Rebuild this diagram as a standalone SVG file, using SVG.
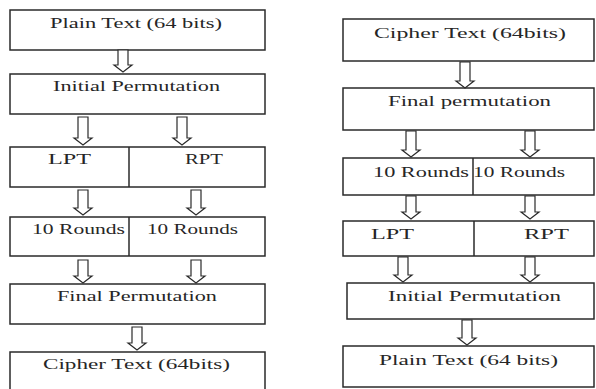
<svg xmlns="http://www.w3.org/2000/svg" width="596" height="389" viewBox="0 0 596 389">
  <style>
    .box { fill: #ffffff; stroke: #2a2a2a; stroke-width: 1.5; }
    .div { stroke: #2a2a2a; stroke-width: 1.5; }
    .arr { fill: #ffffff; stroke: #2a2a2a; stroke-width: 1.2; stroke-linejoin: miter; }
    .lbl { font-family: 'Times New Roman', Times, 'Liberation Serif', serif; font-size: 15px; fill: #262626; }
  </style>
  <rect width="596" height="389" fill="#ffffff"/>

  <!-- Encryption: left column -->
  <g id="enc-plain">
    <rect class="box" x="10" y="10" width="255" height="40"/>
    <text class="lbl" x="50" y="28" textLength="172" lengthAdjust="spacingAndGlyphs">Plain Text (64 bits)</text>
  </g>
  <g id="enc-ip">
    <rect class="box" x="10" y="74" width="255" height="40"/>
    <text class="lbl" x="53" y="91" textLength="167" lengthAdjust="spacingAndGlyphs">Initial Permutation</text>
  </g>
  <g id="enc-halves">
    <rect class="box" x="10" y="147" width="255" height="40"/>
    <line class="div" x1="129" y1="147" x2="129" y2="187"/>
    <text class="lbl" x="48" y="164" textLength="43" lengthAdjust="spacingAndGlyphs">LPT</text>
    <text class="lbl" x="185" y="164" textLength="38" lengthAdjust="spacingAndGlyphs">RPT</text>
  </g>
  <g id="enc-rounds">
    <rect class="box" x="10" y="217" width="255" height="39"/>
    <line class="div" x1="129" y1="217" x2="129" y2="256"/>
    <text class="lbl" x="32" y="234" textLength="93" lengthAdjust="spacingAndGlyphs">10 Rounds</text>
    <text class="lbl" x="147" y="234" textLength="91" lengthAdjust="spacingAndGlyphs">10 Rounds</text>
  </g>
  <g id="enc-fp">
    <rect class="box" x="10" y="284" width="255" height="40"/>
    <text class="lbl" x="57" y="301" textLength="160" lengthAdjust="spacingAndGlyphs">Final Permutation</text>
  </g>
  <g id="enc-cipher">
    <rect class="box" x="10" y="352" width="255" height="45"/>
    <text class="lbl" x="43" y="369" textLength="187" lengthAdjust="spacingAndGlyphs">Cipher Text (64bits)</text>
  </g>

  <!-- Decryption: right column -->
  <g id="dec-cipher">
    <rect class="box" x="343" y="19" width="251" height="42"/>
    <text class="lbl" x="374" y="38" textLength="192" lengthAdjust="spacingAndGlyphs">Cipher Text (64bits)</text>
  </g>
  <g id="dec-fp">
    <rect class="box" x="343" y="88" width="251" height="42"/>
    <text class="lbl" x="388" y="106" textLength="163" lengthAdjust="spacingAndGlyphs">Final permutation</text>
  </g>
  <g id="dec-rounds">
    <rect class="box" x="343" y="158" width="251" height="37"/>
    <line class="div" x1="473" y1="158" x2="473" y2="195"/>
    <text class="lbl" x="373" y="177" textLength="96" lengthAdjust="spacingAndGlyphs">10 Rounds</text>
    <text class="lbl" x="473" y="177" textLength="92" lengthAdjust="spacingAndGlyphs">10 Rounds</text>
  </g>
  <g id="dec-halves">
    <rect class="box" x="343" y="221" width="251" height="35"/>
    <line class="div" x1="474" y1="221" x2="474" y2="256"/>
    <text class="lbl" x="371" y="239" textLength="43" lengthAdjust="spacingAndGlyphs">LPT</text>
    <text class="lbl" x="524" y="239" textLength="45" lengthAdjust="spacingAndGlyphs">RPT</text>
  </g>
  <g id="dec-ip">
    <rect class="box" x="347" y="283" width="247" height="36"/>
    <text class="lbl" x="388" y="301" textLength="173" lengthAdjust="spacingAndGlyphs">Initial Permutation</text>
  </g>
  <g id="dec-plain">
    <rect class="box" x="343" y="346" width="251" height="41"/>
    <text class="lbl" x="379" y="365" textLength="179" lengthAdjust="spacingAndGlyphs">Plain Text (64 bits)</text>
  </g>

  <!-- Hollow block arrows between stages -->
  <g id="connectors">
    <path class="arr" d="M118,50 V65 H114 L123,72 L132,65 H128 V50 Z"/>
    <path class="arr" d="M78,117 V138 H74 L83,145 L92,138 H88 V117 Z"/>
    <path class="arr" d="M177,117 V138 H173 L182,145 L191,138 H187 V117 Z"/>
    <path class="arr" d="M78,190 V208 H74 L83,215 L92,208 H88 V190 Z"/>
    <path class="arr" d="M191,190 V208 H187 L196,215 L205,208 H201 V190 Z"/>
    <path class="arr" d="M78,260 V276 H74 L83,283 L92,276 H88 V260 Z"/>
    <path class="arr" d="M191,260 V276 H187 L196,283 L205,276 H201 V260 Z"/>
    <path class="arr" d="M132,327 V343 H128 L137,350 L146,343 H142 V327 Z"/>

    <path class="arr" d="M460,62 V81 H456 L465,88 L474,81 H470 V62 Z"/>
    <path class="arr" d="M406,131 V150 H402 L411,157 L420,150 H416 V131 Z"/>
    <path class="arr" d="M525,131 V150 H521 L530,157 L539,150 H535 V131 Z"/>
    <path class="arr" d="M406,196 V212 H402 L411,219 L420,212 H416 V196 Z"/>
    <path class="arr" d="M525,196 V212 H521 L530,219 L539,212 H535 V196 Z"/>
    <path class="arr" d="M398,257 V275 H394 L403,282 L412,275 H408 V257 Z"/>
    <path class="arr" d="M525,257 V275 H521 L530,282 L539,275 H535 V257 Z"/>
    <path class="arr" d="M462,320 V338 H458 L467,345 L476,338 H472 V320 Z"/>
  </g>
</svg>
